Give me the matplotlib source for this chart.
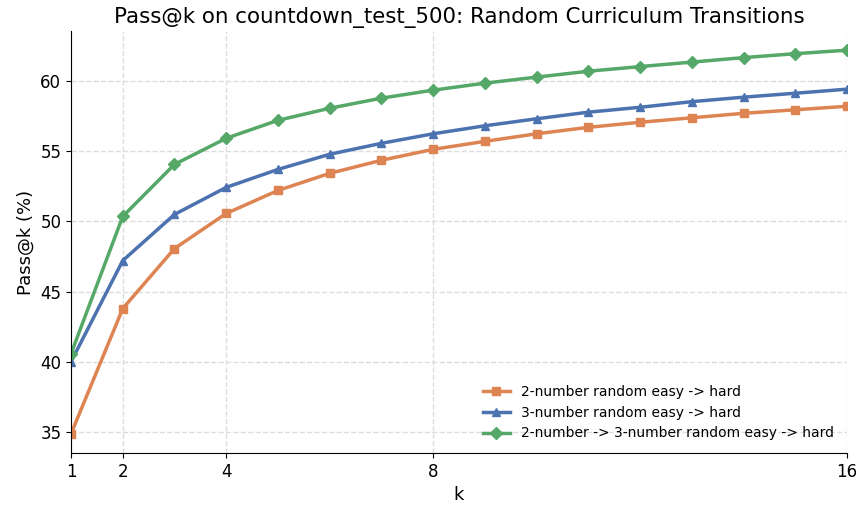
import matplotlib
matplotlib.use('Agg')
import matplotlib.pyplot as plt

# Pass@k values
k = [1, 2, 3, 4, 5, 6, 7, 8, 9, 10, 11, 12, 13, 14, 15, 16]

two_num = [34.86, 43.79, 48.07, 50.57, 52.21, 53.43, 54.36, 55.14,
           55.71, 56.25, 56.71, 57.07, 57.39, 57.71, 57.96, 58.21]
three_num = [40.0, 47.21, 50.5, 52.43, 53.71, 54.79, 55.57, 56.25,
             56.82, 57.32, 57.79, 58.14, 58.54, 58.86, 59.14, 59.43]
two_to_three = [40.57, 50.36, 54.07, 55.93, 57.21, 58.07, 58.79, 59.36,
                59.86, 60.29, 60.71, 61.04, 61.36, 61.68, 61.96, 62.21]

labels = ['2-number random easy -> hard',
          '3-number random easy -> hard',
          '2-number -> 3-number random easy -> hard']
xticks = [1, 2, 4, 8, 16]

fig = plt.figure(figsize=(8.59, 5.05), dpi=100)
ax = fig.add_axes([0.0827, 0.103, 0.9033, 0.8356])

ax.plot(k, two_num, color='#DD8452', marker='s', lw=2.5, ms=6, label=labels[0])
ax.plot(k, three_num, color='#4C72B0', marker='^', lw=2.5, ms=6, label=labels[1])
ax.plot(k, two_to_three, color='#55A868', marker='D', lw=2.5, ms=6, label=labels[2])

ax.set_xlim(1, 16)
ax.set_xticks(xticks)
ax.set_xticklabels([str(t) for t in xticks])
ax.tick_params(labelsize=12)
ax.set_xlabel('k', fontsize=13)
ax.set_ylabel('Pass@k (%)', fontsize=13)
ax.set_title('Pass@k on countdown_test_500: Random Curriculum Transitions', fontsize=15.4)
ax.grid(True, linestyle='--', color='#dddddd', linewidth=1)
ax.spines['top'].set_visible(False)
ax.spines['right'].set_visible(False)
ax.legend(loc='lower right', frameon=False, fontsize=10)

fig.savefig('out.png')
